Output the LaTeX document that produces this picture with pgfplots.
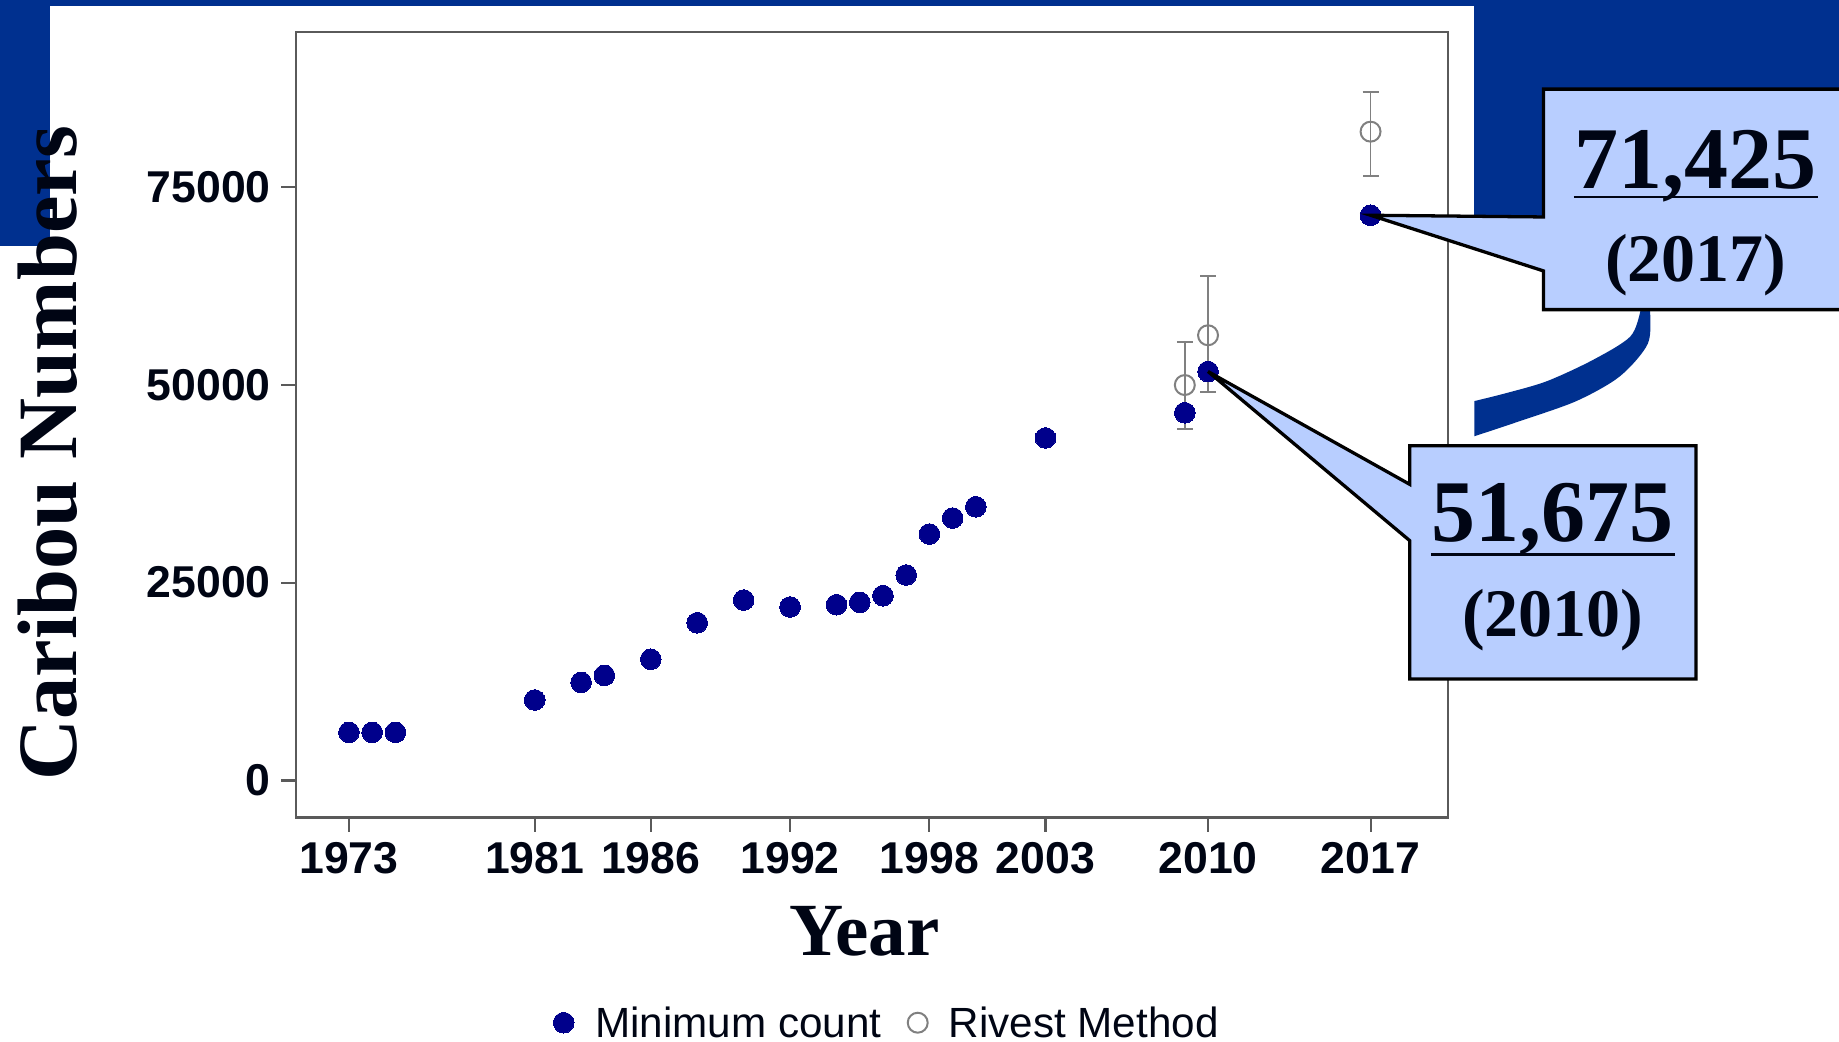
\documentclass[border=0pt]{standalone}
\usepackage{fontspec}
\usepackage{pgfplots}
\usepackage{pgfplotstable}
\pgfplotsset{compat=1.18}
\newfontfamily\arialfont{Liberation Sans}
\newfontfamily\timesfont{Liberation Serif}
\definecolor{slideblue}{RGB}{0,48,143}
\definecolor{navydot}{RGB}{0,0,139}
\definecolor{callout}{RGB}{184,206,255}
\definecolor{errgray}{RGB}{128,128,128}
\definecolor{axisgray}{RGB}{90,90,90}
\definecolor{textblack}{RGB}{0,5,20}

\pgfplotstableread{
year count
1973 6080
1974 6080
1975 6080
1981 10170
1983 12400
1984 13280
1986 15310
1988 19930
1990 22800
1992 21920
1994 22210
1995 22510
1996 23350
1997 25960
1998 31140
1999 33160
2000 34590
2003 43280
2009 46470
2010 51675
2017 71425
}\mindata

\pgfplotstableread{
year est ep em
2009 49970 5400 5560
2010 56260 7490 7210
2017 81990 5060 5560
}\rivdata

\begin{document}
\begin{tikzpicture}
\begin{scope}[x=1pt,y=1pt]
\fill[white] (0,0) rectangle (1568,888);
% slide decoration
\fill[slideblue] (0,883) rectangle (1568,888);
\fill[slideblue] (0,678) rectangle (43,888);
\fill[slideblue] (1257,703) rectangle (1568,888);
\fill[slideblue] plot[smooth] coordinates {(1399,630) (1399,624) (1390,601) (1358,581) (1319,563) (1285,553) (1257,546)}
  -- (1257,516) -- plot[smooth] coordinates {(1257,516) (1296,529) (1344,546) (1381,567) (1405,595) (1407,624) (1407,630)} -- cycle;
\end{scope}

\begin{axis}[
  at={(252pt,191pt)}, anchor=south west,
  scale only axis, width=982.5pt, height=669.5pt,
  xmin=1970.70, xmax=2020.33, ymin=-4676, ymax=94553,
  clip=false,
  axis line style={draw=axisgray, line width=1.8pt},
  xtick={1973,1981,1986,1992,1998,2003,2010,2017},
  xticklabels={1973,1981,1986,1992,1998,2003,2010,2017},
  ytick={0,25000,50000,75000},
  yticklabels={0,25000,50000,75000},
  scaled y ticks=false, scaled x ticks=false,
  xtick pos=bottom, ytick pos=left,
  tick align=outside,
  major tick length=12pt,
  major tick style={draw=axisgray, line width=1.8pt},
  tick label style={font=\arialfont\bfseries\fontsize{38}{40}\selectfont, text=textblack, inner sep=0pt},
  xticklabel style={yshift=-9pt},
  yticklabel style={xshift=-9pt},
  legend columns=2,
  legend image code/.code={\draw[#1] plot coordinates {(0pt,0pt)};},
  legend style={draw=none, fill=none, at={(0.517,-0.2614)}, anchor=center,
    font=\arialfont\fontsize{36}{40}\selectfont, text=textblack,
    inner sep=0pt, nodes={inner xsep=9pt, inner ysep=0pt},
    /tikz/every odd column/.append style={column sep=9pt},
    /tikz/every even column/.append style={column sep=13.5pt}},
]
\addplot[forget plot, only marks, mark=o, draw=errgray, mark size=8.5pt,
  mark options={line width=1.7pt, draw=errgray},
  error bars/.cd, y dir=both, y explicit,
  error bar style={draw=errgray, line width=1.6pt},
  error mark options={draw=errgray, line width=1.6pt, mark size=6.8pt, rotate=90}]
  table[x=year, y=est, y error plus=ep, y error minus=em] {\rivdata};
\addplot[only marks, mark=*, mark size=8.8pt, draw=navydot, fill=navydot,
  mark options={draw=navydot, fill=navydot, line width=0pt}]
  table[x=year, y=count] {\mindata};
\addlegendentry{Minimum count}
\addlegendimage{only marks, mark=o, mark size=8.5pt, draw=errgray, mark options={line width=1.7pt, draw=errgray}}
\addlegendentry{Rivest Method}
\coordinate (p2017) at (axis cs:2017,71425);
\coordinate (p2010) at (axis cs:2010,51675);
\end{axis}

\begin{scope}[x=1pt,y=1pt]
% axis titles
\node[rotate=90, anchor=base, inner sep=0pt, text=textblack,
  font=\timesfont\bfseries\fontsize{72}{76}\selectfont] at (65,501.5) {Caribou Numbers};
\node[anchor=base, inner sep=0pt, text=textblack,
  font=\timesfont\bfseries\fontsize{64}{70}\selectfont] at (737,73) {Year};

% callouts
\draw[line width=2.8pt, fill=callout, line join=miter]
  (1316,812) -- (1580,812) -- (1580,624) -- (1316,624) -- (1316,657) -- (p2017) -- (1316,703) -- cycle;
\draw[line width=2.8pt, fill=callout, line join=miter]
  (1202,508) -- (1446,508) -- (1446,309) -- (1202,309) -- (1202,427) -- (p2010) -- (1202,475) -- cycle;
\node[anchor=base, inner sep=0pt, text=textblack, font=\timesfont\bfseries\fontsize{75}{80}\selectfont] at (1446,727) {71,425};
\draw[line width=2.5pt, textblack] (1342,720) -- (1550,720);
\node[anchor=base, inner sep=0pt, text=textblack, font=\timesfont\bfseries\fontsize{58}{62}\selectfont] at (1446,648) {(2017)};
\node[anchor=base, inner sep=0pt, text=textblack, font=\timesfont\bfseries\fontsize{75}{80}\selectfont] at (1324,426) {51,675};
\draw[line width=2.5pt, textblack] (1220,415) -- (1428,415);
\node[anchor=base, inner sep=0pt, text=textblack, font=\timesfont\bfseries\fontsize{58}{62}\selectfont] at (1324,345) {(2010)};
\end{scope}
\pgfresetboundingbox
\path[use as bounding box] (0pt,0pt) rectangle (1568pt,888pt);
\end{tikzpicture}
\end{document}
